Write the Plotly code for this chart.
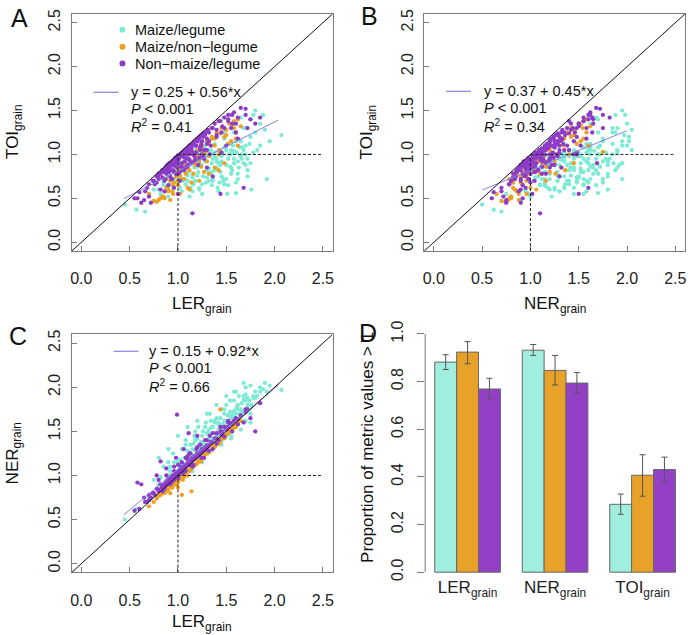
import plotly.graph_objects as go

# ---------------- data ----------------
groups = ["Maize/legume", "Maize/non\u2212legume", "Non\u2212maize/legume"]

# Maize/legume
ml_ler = [0.45,0.57,0.66,0.70,0.75,0.80,0.85,0.88,0.92,0.95,0.98,1.00,1.02,1.04,1.05,1.07,1.08,1.10,1.12,1.13,1.15,1.17,1.18,1.20,1.21,1.22,1.24,1.25,1.26,1.28,1.29,1.30,1.32,1.33,1.35,1.36,1.38,1.40,1.41,1.42,1.44,1.45,1.47,1.48,1.50,1.51,1.52,1.54,1.55,1.57,1.58,1.60,1.61,1.63,1.65,1.66,1.68,1.70,1.72,1.75,1.78,1.80,1.82,1.85,1.88,1.90,1.92,2.07,1.12,1.20,1.30,1.38,1.45,1.53,1.62,1.70,1.35,1.25,1.15,1.05,0.95,1.48,1.58,1.65,1.18,1.43,1.55,1.75,0.90,1.28,
          1.02,1.06,1.10,1.14,1.18,1.22,1.26,1.30,1.34,1.38,1.42,1.46,1.50,1.54,1.58,1.62,1.66,1.70,1.74,1.78,1.08,1.16,1.24,1.32,1.40,1.48,1.56,1.64,1.72,1.80,0.96,1.00,1.12,1.20,1.28,1.36,1.44,1.52,1.60,1.68,0.82,0.90,1.85,1.95,1.76,1.34,1.46,1.58,1.22,1.10,
          1.00,1.05,1.10,1.15,1.20,1.25,1.30,1.35,1.40,1.45,1.50,1.55,1.60,1.65,1.70,1.75,0.80,0.85,0.90,0.95,1.08,1.18,1.28,1.38,1.48,1.58,1.68,1.22,1.32,1.42,1.52,1.62,1.72,1.12,1.02,0.92,1.36,1.46,1.56,1.66]
ml_ner = [0.50,0.62,0.70,0.75,0.95,0.90,1.10,0.95,1.05,1.25,1.02,1.15,1.08,1.30,1.12,1.20,1.40,1.15,1.25,1.35,1.20,1.45,1.28,1.30,1.55,1.25,1.38,1.32,1.50,1.35,1.60,1.40,1.45,1.70,1.42,1.55,1.48,1.65,1.45,1.60,1.52,1.75,1.58,1.62,1.80,1.55,1.68,1.85,1.65,1.72,1.95,1.70,1.78,1.90,1.75,1.82,2.05,1.85,1.80,2.02,1.88,1.95,1.90,2.00,1.98,2.05,1.95,1.97,1.10,1.18,1.25,1.35,1.40,1.50,1.58,1.62,1.55,1.45,1.30,1.05,1.00,1.70,1.62,1.68,1.50,1.48,1.45,1.70,1.00,1.30,
          1.12,1.10,1.28,1.22,1.40,1.30,1.35,1.48,1.40,1.60,1.52,1.58,1.62,1.72,1.66,1.80,1.72,1.92,1.85,1.90,1.20,1.36,1.30,1.52,1.45,1.55,1.68,1.70,1.78,1.88,1.15,1.05,1.18,1.42,1.32,1.38,1.65,1.58,1.75,1.86,0.98,1.15,1.95,2.02,1.80,1.62,1.50,1.60,1.35,1.28,
          1.45,0.98,1.55,1.05,1.62,1.15,1.70,1.28,1.80,1.35,1.90,1.42,1.95,1.52,2.00,1.60,1.20,0.82,1.30,0.92,1.35,1.40,1.55,1.62,1.75,1.85,1.90,1.35,1.48,1.58,1.68,1.75,1.88,1.22,1.18,1.10,1.30,1.44,1.50,1.62]
ml_toi = [0.43,0.37,0.35,0.55,0.60,0.48,0.65,0.58,0.70,0.62,0.80,0.68,0.75,0.58,0.85,0.72,0.66,0.80,0.90,0.62,0.78,0.85,0.70,0.95,0.80,0.60,0.88,1.00,0.75,0.92,0.68,0.82,1.02,0.78,0.90,0.72,0.98,0.85,0.62,1.05,0.80,0.92,0.70,1.08,0.88,0.55,0.95,1.00,0.78,1.10,0.90,0.56,1.02,0.85,1.15,0.95,1.05,1.30,0.75,1.20,1.45,1.50,1.05,1.35,1.45,1.28,0.72,1.22,0.95,0.98,1.00,1.02,0.98,1.00,0.92,1.00,0.65,0.55,0.58,0.92,0.90,1.25,1.35,1.42,0.98,0.68,1.05,1.40,0.52,1.10,
          0.72,0.85,0.76,0.92,0.70,0.88,0.96,0.74,1.00,0.82,0.90,1.02,0.72,0.86,1.04,0.78,1.00,0.88,1.12,1.02,0.90,0.66,0.98,0.84,0.95,0.66,0.82,1.08,0.95,1.25,0.72,0.82,0.88,0.76,0.94,0.70,0.88,1.12,0.68,0.90,0.55,0.64,1.10,1.15,0.60,1.05,0.74,0.95,1.02,0.70,
          0.82,0.70,0.95,0.74,0.86,0.66,1.00,0.80,0.92,0.75,1.05,0.85,1.15,0.98,1.10,0.90,0.60,0.68,0.75,0.80,1.00,1.05,1.08,1.12,1.18,1.25,1.30,0.62,0.70,0.58,0.65,0.72,0.82,0.52,0.62,0.66,0.95,1.00,1.02,1.08]

# Maize/non-legume
mn_ler = [0.70,0.75,0.80,0.82,0.85,0.88,0.90,0.92,0.95,0.98,1.00,1.02,1.04,1.05,1.08,1.10,1.12,1.14,1.15,1.18,1.20,1.22,1.25,1.27,1.30,1.32,1.35,1.38,1.40,1.43,1.45,1.48,1.50,1.53,1.55,1.58,1.60,1.62,1.65,1.44,0.95,1.10,1.25,1.35,1.05,
          0.78,0.84,0.90,0.96,1.02,1.08,1.14,1.20,1.26,1.32,1.38,1.44,1.50,1.56,1.62,0.86,0.94,1.00,1.06,1.16,1.24,1.30,1.42,1.52,1.60,
          0.88,0.98,1.08,1.18,1.28,1.38,1.48,1.58,0.92,1.02,1.12,1.22,1.32,1.42,1.00]
mn_ner = [0.65,0.70,0.77,0.78,0.80,0.82,0.86,0.80,0.92,0.90,0.96,0.98,0.78,1.02,1.00,1.06,1.05,0.82,1.10,1.12,1.15,1.18,1.20,1.20,1.25,1.28,1.30,1.32,1.38,1.40,1.42,1.45,1.45,1.50,1.52,1.55,1.58,1.60,1.62,1.75,0.88,1.00,1.22,1.35,0.95,
          0.74,0.80,0.84,0.90,0.96,1.02,1.08,1.14,1.20,1.27,1.33,1.38,1.46,1.52,1.58,0.80,0.86,0.92,0.98,1.10,1.16,1.25,1.40,1.48,1.55,
          0.84,0.94,1.04,1.12,1.24,1.34,1.42,1.54,0.88,0.96,1.06,1.16,1.26,1.36,0.86]
mn_toi = [0.55,0.47,0.48,0.50,0.52,0.62,0.58,0.70,0.65,0.75,0.70,0.85,0.72,0.90,0.78,0.95,0.82,0.68,1.00,0.88,1.05,0.92,1.10,0.80,1.15,0.98,1.20,0.85,1.25,1.05,1.30,0.90,1.22,1.35,1.15,1.38,1.25,1.10,1.32,1.03,0.55,0.62,1.00,1.18,0.82,
          0.46,0.52,0.60,0.68,0.76,0.84,0.92,0.98,1.05,1.12,1.18,1.24,1.28,1.34,1.40,0.50,0.58,0.65,0.72,0.78,0.86,0.92,1.00,1.12,1.18,
          0.72,0.80,0.88,0.95,1.02,1.10,1.20,1.30,0.48,0.55,0.60,0.70,0.78,0.82,0.78]

# Non-maize/legume
nl_ler = [0.55,0.60,0.62,0.68,0.72,0.75,0.78,0.80,0.82,0.83,0.85,0.86,0.87,0.88,0.89,0.90,0.91,0.92,0.93,0.94,0.95,0.96,0.97,0.98,0.99,1.00,1.01,1.02,1.03,1.04,1.05,1.06,1.07,1.08,1.09,1.10,1.11,1.12,1.13,1.14,1.15,1.16,1.17,1.18,1.19,1.20,1.21,1.22,1.23,1.24,1.25,1.26,1.27,1.28,1.30,1.31,1.33,1.35,1.36,1.38,1.40,1.42,1.44,1.45,1.48,1.50,1.52,1.55,1.58,1.60,1.62,1.65,1.68,1.70,1.72,1.75,1.80,1.85,0.92,0.94,0.96,1.00,1.02,1.05,1.08,1.10,1.12,1.15,0.78,0.70,0.65,0.88,0.98,1.06,1.20,0.99,1.11,0.82,0.58,
          0.84,0.86,0.88,0.90,0.92,0.94,0.96,0.98,1.00,1.02,1.04,1.06,1.08,1.10,1.12,1.14,1.16,1.18,1.20,1.22,1.24,1.26,1.28,1.30,1.32,0.87,0.91,0.95,0.99,1.03,1.07,1.11,1.15,1.19,1.23,1.27,0.76,0.80,1.34,1.40,1.46,1.52,1.56,1.62,1.30,1.00,1.10,0.93,1.17,1.25,
          0.80,0.84,0.88,0.92,0.96,1.00,1.04,1.08,1.12,1.16,1.20,1.24,1.28,1.32,1.36,1.40,1.44,1.48,1.52,1.56,0.90,0.94,0.98,1.02,1.06,1.10,1.14,1.18,1.22,1.26,0.74,0.70,0.66,0.86,0.96,1.00,1.30,1.60,1.70,1.45]
nl_ner = [0.60,0.62,0.90,0.70,0.75,0.80,0.85,0.82,0.90,0.86,0.88,0.90,0.88,0.92,0.90,0.95,0.93,0.94,0.95,1.00,0.96,1.05,0.98,1.02,1.00,1.03,1.05,1.04,1.10,1.06,1.08,1.10,1.09,1.20,1.12,1.13,1.15,1.14,1.25,1.16,1.10,1.20,1.22,1.20,1.30,1.22,1.25,1.24,1.35,1.26,1.30,1.28,1.20,1.32,1.34,1.33,1.45,1.38,1.30,1.42,1.48,1.40,1.50,1.46,1.55,1.52,1.60,1.58,1.62,1.65,1.58,1.68,1.60,1.72,1.75,1.65,1.50,1.82,0.97,0.93,1.00,0.98,1.06,1.02,1.10,1.18,1.12,1.17,1.00,0.72,0.75,1.08,1.20,1.30,1.45,1.69,1.48,1.16,0.92,
          0.86,0.85,0.92,0.93,0.95,0.97,0.99,1.03,1.02,1.06,1.08,1.05,1.12,1.14,1.15,1.19,1.18,1.22,1.25,1.24,1.28,1.30,1.29,1.33,1.35,0.90,0.96,0.98,1.04,1.05,1.12,1.13,1.20,1.23,1.25,1.30,0.78,0.84,1.38,1.42,1.50,1.55,1.60,1.64,1.40,1.12,1.22,0.98,1.19,1.27,
          0.95,0.82,1.00,0.90,1.10,0.97,1.15,1.05,1.25,1.12,1.32,1.20,1.40,1.28,1.48,1.36,1.55,1.44,1.62,1.50,0.92,0.98,1.00,1.04,1.08,1.12,1.16,1.20,1.24,1.28,0.80,0.78,0.70,0.88,0.95,1.02,1.32,1.64,1.75,1.48]
nl_toi = [0.50,0.57,0.45,0.62,0.45,0.70,0.75,0.78,0.60,0.80,0.82,0.70,0.85,0.78,0.88,0.84,0.90,0.75,0.91,0.88,0.93,0.80,0.96,0.92,0.85,0.99,0.95,0.70,1.01,0.90,1.03,0.97,1.05,0.85,1.07,1.00,1.09,0.93,1.11,1.05,0.33,1.14,0.98,1.16,1.10,1.18,0.88,1.20,1.05,1.22,1.15,1.24,0.95,1.25,1.12,1.28,1.00,1.30,0.75,1.35,1.20,1.38,0.55,1.25,1.42,1.10,1.40,1.30,1.48,1.35,1.18,1.53,0.62,1.52,1.30,1.40,1.35,1.42,0.86,0.92,0.87,0.93,0.97,0.85,1.02,1.07,1.03,1.12,0.68,0.52,0.48,0.82,0.95,1.02,1.15,0.90,1.00,0.78,0.50,
          0.82,0.80,0.86,0.87,0.88,0.92,0.90,0.97,0.96,0.98,1.00,1.02,1.03,1.05,1.10,1.08,1.12,1.10,1.15,1.18,1.12,1.20,1.22,1.18,1.25,0.72,0.80,0.82,0.90,0.86,0.92,0.95,1.00,1.02,1.08,1.05,0.66,0.72,1.10,1.28,1.32,1.38,1.45,1.42,1.05,0.78,0.88,0.72,0.92,1.00,
          0.76,0.74,0.84,0.82,0.94,0.90,1.00,0.96,1.08,1.02,1.16,1.10,1.24,1.15,1.30,1.22,1.38,1.30,1.45,1.35,0.65,0.72,0.78,0.80,0.82,0.86,0.90,0.94,0.96,0.98,0.70,0.66,0.58,0.58,0.62,0.55,0.85,1.25,1.45,1.02]

# Regression results (intercept, slope, x from, x to, R2)
reg_A = [0.25, 0.56, 0.44, 2.04, "0.41"]
reg_B = [0.37, 0.45, 0.50, 2.00, "0.34"]
reg_C = [0.15, 0.92, 0.44, 2.04, "0.66"]

# Panel D: proportion of metric values > 1
bar_metrics = ["LER<sub>grain</sub>", "NER<sub>grain</sub>", "TOI<sub>grain</sub>"]
prop_ml = [0.882, 0.932, 0.285]
prop_ml_lo = [0.851, 0.910, 0.243]
prop_ml_hi = [0.913, 0.956, 0.328]
prop_mn = [0.924, 0.847, 0.407]
prop_mn_lo = [0.875, 0.786, 0.319]
prop_mn_hi = [0.968, 0.910, 0.493]
prop_nl = [0.769, 0.794, 0.431]
prop_nl_lo = [0.724, 0.751, 0.379]
prop_nl_hi = [0.814, 0.838, 0.483]

scatter_ticks = [0.0, 0.5, 1.0, 1.5, 2.0, 2.5]
bar_ticks = [0.0, 0.2, 0.4, 0.6, 0.8, 1.0]

# ---------------- style ----------------
FONT = "Liberation Sans, Arial, sans-serif"
pt_cols = ["#7DEAD4", "#EDA124", "#8E3BC8"]
bar_cols = ["#9FEEDF", "#E8A22A", "#9340C6"]
REG_COL = "#8484DC"
W, H = 688, 635

def px(x):
    return x / W

def py(y):
    return 1 - y / H

fig = go.Figure()

sc_data = {
    "A": [(ml_ler, ml_toi), (mn_ler, mn_toi), (nl_ler, nl_toi)],
    "B": [(ml_ner, ml_toi), (mn_ner, mn_toi), (nl_ner, nl_toi)],
    "C": [(ml_ler, ml_ner), (mn_ler, mn_ner), (nl_ler, nl_ner)],
}
axmap = {"A": ("x", "y"), "B": ("x2", "y2"), "C": ("x3", "y3")}
regs = {"A": reg_A, "B": reg_B, "C": reg_C}

for p in ["A", "B", "C"]:
    xa, ya = axmap[p]
    for g, (xs, ys) in enumerate(sc_data[p]):
        fig.add_trace(go.Scatter(x=xs, y=ys, mode="markers", xaxis=xa, yaxis=ya,
                                 marker=dict(size=4.3, color=pt_cols[g], line=dict(width=0)),
                                 showlegend=False, hoverinfo="skip"))
    a, b, x0, x1, r2 = regs[p]
    fig.add_trace(go.Scatter(x=[x0, x1], y=[a + b * x0, a + b * x1], mode="lines",
                             xaxis=xa, yaxis=ya, line=dict(color=REG_COL, width=1),
                             showlegend=False, hoverinfo="skip"))

# bars
bar_sets = [(prop_ml, prop_ml_lo, prop_ml_hi), (prop_mn, prop_mn_lo, prop_mn_hi), (prop_nl, prop_nl_lo, prop_nl_hi)]
for g, (v, lo, hi) in enumerate(bar_sets):
    xs = [1 + 4 * i + 0.5 + g for i in range(3)]
    fig.add_trace(go.Bar(x=xs, y=v, width=1, xaxis="x4", yaxis="y4",
                         marker=dict(color=bar_cols[g], line=dict(color="#666666", width=1)),
                         error_y=dict(type="data", symmetric=False,
                                      array=[h - m for h, m in zip(hi, v)],
                                      arrayminus=[m - l for m, l in zip(v, lo)],
                                      color="#555555", thickness=1, width=3),
                         showlegend=False, hoverinfo="skip"))

# ---------------- axes ----------------
doms = {
    "A": ([71, 333], [9, 248]),
    "B": ([425, 687], [9, 248]),
    "C": ([71, 333], [332, 572]),
}
ax_common = dict(range=[-0.1, 2.6], tickvals=scatter_ticks, tickformat=".1f",
                 showline=True, mirror=True, linecolor="#7a7a7a", linewidth=1,
                 ticks="inside", ticklen=5, tickcolor="#7a7a7a", showgrid=False,
                 zeroline=False, tickfont=dict(size=16, color="#222", family=FONT))
layout = {}
for p, (xk, yk) in zip(["A", "B", "C"], [("xaxis", "yaxis"), ("xaxis2", "yaxis2"), ("xaxis3", "yaxis3")]):
    (xl, xr), (yt, yb) = doms[p]
    anchor_y = yk.replace("axis", "")
    anchor_x = xk.replace("axis", "")
    layout[xk] = dict(ax_common, domain=[px(xl), px(xr)], anchor=anchor_y, ticklabelstandoff=13)
    layout[yk] = dict(ax_common, domain=[py(yb), py(yt)], anchor=anchor_x, tickangle=-90,
                      ticklabelstandoff=4)

layout["xaxis4"] = dict(domain=[px(426), px(687)], anchor="free", position=py(575),
                        range=[0.56, 12.44],
                        tickvals=[2.5, 6.5, 10.5], ticktext=bar_metrics, showline=False,
                        ticks="", showgrid=False, zeroline=False,
                        tickfont=dict(size=17, color="#222", family=FONT), ticklabelstandoff=0)
layout["yaxis4"] = dict(domain=[py(581.3), py(322)], anchor="x4", range=[-0.04, 1.04],
                        tickvals=bar_ticks, tickformat=".1f", showline=False, ticks="outside",
                        ticklen=7, tickcolor="#7a7a7a", showgrid=False, zeroline=False,
                        tickangle=-90, tickfont=dict(size=16, color="#222", family=FONT),
                        ticklabelstandoff=8)

shapes = []
# y axis line for D from 0 to 1
shapes.append(dict(type="line", xref="paper", yref="y4", x0=px(426), x1=px(426), y0=0, y1=1,
                   line=dict(color="#7a7a7a", width=1)))
for p in ["A", "B", "C"]:
    xa, ya = axmap[p]
    shapes.append(dict(type="line", xref=xa, yref=ya, x0=-0.1, y0=-0.1, x1=2.6, y1=2.6,
                       line=dict(color="#111", width=1)))
    shapes.append(dict(type="line", xref=xa, yref=ya, x0=1, y0=1, x1=2.5, y1=1,
                       line=dict(color="#222", width=1, dash="3px,2px")))
    shapes.append(dict(type="line", xref=xa, yref=ya, x0=1, y0=-0.1, x1=1, y1=1,
                       line=dict(color="#222", width=1, dash="3px,2px")))

annotations = []

def ann(text, x, y, size, xanchor="left", angle=0):
    annotations.append(dict(text=text, x=px(x), y=py(y), xref="paper", yref="paper",
                            xanchor=xanchor, yanchor="middle", showarrow=False,
                            textangle=angle, font=dict(size=size, color="#111", family=FONT)))

# legend (panel A)
leg_y = [25, 42, 59]
for g in range(3):
    shapes.append(dict(type="circle", xref="paper", yref="paper",
                       x0=px(119), x1=px(125), y0=py(leg_y[g] + 3), y1=py(leg_y[g] - 3),
                       fillcolor=pt_cols[g], line=dict(width=0)))
    ann(groups[g], 133, leg_y[g], 14.5)

# regression text blocks
reg_pos = {"A": (93, 118, 129, [88, 105, 122]),
           "B": (447, 472, 483, [87, 104, 122]),
           "C": (113, 138, 147, [349, 366, 384])}
for p in ["A", "B", "C"]:
    l0, l1, tx, ys = reg_pos[p]
    a, b, _, _, r2 = regs[p]
    shapes.append(dict(type="line", xref="paper", yref="paper", x0=px(l0), x1=px(l1),
                       y0=py(ys[0]), y1=py(ys[0]), line=dict(color=REG_COL, width=1.2)))
    ann("y = %.2f + %.2f*x" % (a, b), tx, ys[0], 14.5)
    ann("<i>P</i> < 0.001", tx, ys[1], 14.5)
    ann("<i>R</i><sup>2</sup> = " + r2, tx, ys[2], 14.5)

# panel letters
ann("A", 19, 13, 25, xanchor="center")
ann("B", 370, 11, 25, xanchor="center")
ann("C", 17, 334, 25, xanchor="center")
ann("D", 369, 331, 25, xanchor="center")

# axis titles
ann("LER<sub>grain</sub>", 202, 302, 17, xanchor="center")
ann("NER<sub>grain</sub>", 556, 302, 17, xanchor="center")
ann("LER<sub>grain</sub>", 202, 623, 17, xanchor="center")
ann("TOI<sub>grain</sub>", 13, 128, 17, xanchor="center", angle=-90)
ann("TOI<sub>grain</sub>", 369, 128, 17, xanchor="center", angle=-90)
ann("NER<sub>grain</sub>", 13, 452, 17, xanchor="center", angle=-90)
ann("Proportion of metric values > 1", 368, 446, 17, xanchor="center", angle=-90)

fig.update_layout(width=W, height=H, margin=dict(l=0, r=0, t=0, b=0),
                  paper_bgcolor="white", plot_bgcolor="white", barmode="overlay",
                  font=dict(family=FONT, color="#111"),
                  shapes=shapes, annotations=annotations, **layout)

fig.write_html("out.html", config={"displayModeBar": False},
               post_script="document.body.style.margin='0px';")
